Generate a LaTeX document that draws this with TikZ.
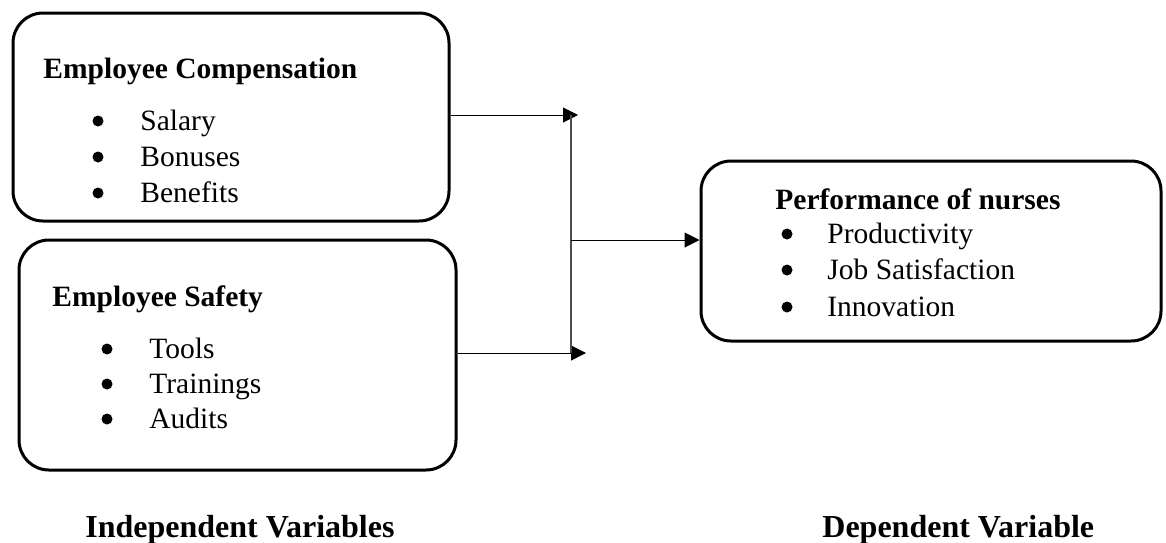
\documentclass[tikz,border=0pt]{standalone}
\usepackage{fontspec}
\setmainfont{Liberation Serif}
\usetikzlibrary{arrows.meta}

\begin{document}
\begin{tikzpicture}[x=0.5pt, y=-0.5pt,
  box/.style={draw, line width=1.5pt, rounded corners=15pt, inner sep=0pt},
  txt/.style={anchor=base west, inner sep=0pt, font=\fontsize{14.75}{17}\selectfont},
  head/.style={txt, font=\fontsize{14.75}{17}\selectfont\bfseries},
  foot/.style={txt, font=\fontsize{16}{19}\selectfont\bfseries},
  dot/.style={circle, fill, inner sep=0pt, minimum size=5.5pt},
  link/.style={line width=0.5pt, -{Triangle[length=7.5pt, width=7.5pt]}}]
  \useasboundingbox (0,0) rectangle (1166,542);

  \node[box, minimum width=218pt, minimum height=104pt] (Comp-Box) at (231,117) {};  % Compensation
  \node[box, minimum width=218.5pt, minimum height=115pt] (Safety-Box) at (237.5,355) {};  % Safety
  \node[box, minimum width=230pt, minimum height=90pt] (Perf-Box) at (931,251) {};  % Performance

  \node[head] (Comp-Head) at (43,78) {Employee Compensation};
  \foreach \y/\t in {130/Salary, 166/Bonuses, 202/Benefits} {
    \node[dot] (Comp-Dot-\y) at (98,\y-9) {};
    \node[txt] (Comp-Item-\y) at (140,\y) {\t};
  }

  \node[head] (Safety-Head) at (52,306) {Employee Safety};
  \foreach \y/\t in {358/Tools, 393/Trainings, 428/Audits} {
    \node[dot] (Safety-Dot-\y) at (107,\y-9) {};
    \node[txt] (Safety-Item-\y) at (149,\y) {\t};
  }

  \node[head] (Perf-Head) at (775,209) {Performance of nurses};
  \foreach \y/\t in {243/Productivity, 279/Job Satisfaction, 316/Innovation} {
    \node[dot] (Perf-Dot-\y) at (787,\y-9) {};
    \node[txt] (Perf-Item-\y) at (827,\y) {\t};
  }

  \coordinate (Top-Tip) at (578,115);
  \coordinate (Bottom-Tip) at (586,353);
  \coordinate (Split) at (571,240);

  \draw[link] (Comp-Box.east |- Top-Tip) -- (Top-Tip);  % Compensation in
  \draw[link] (Safety-Box.east |- Bottom-Tip) -- (Bottom-Tip);  % Safety in
  \draw[line width=0.75pt, black!70] (Split |- Top-Tip) -- (Split |- Bottom-Tip);  % Join
  \draw[link] (Split) -- (Perf-Box.west |- Split);  % Out

  \node[foot] (Indep-Label) at (85,537) {Independent Variables};
  \node[foot] (Dep-Label) at (822,537) {Dependent Variable};
\end{tikzpicture}
\end{document}
